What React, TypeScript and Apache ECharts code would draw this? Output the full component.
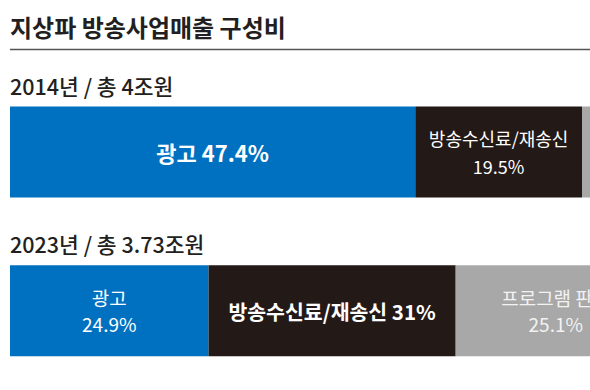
import React, { useEffect, useRef } from "react";
import * as echarts from "echarts";

const title = "지상파 방송사업매출 구성비";
const years = ["2014년", "2023년"];
const totals = [4, 3.73]; // 조원
const totalTexts = ["총 4조원", "총 3.73조원"];
const segments = ["광고", "방송수신료/재송신", "프로그램 판매", "기타"];
const share2014 = [47.4, 19.5, 16.4, 16.7];
const share2023 = [24.9, 31, 25.1, 19.0];

const shares = [share2014, share2023];
const colors = ["#0071c1", "#231916", "#a8a8a8", "#d0d0d0"];
const FONT = "'Noto Sans CJK KR', 'Noto Sans', sans-serif";

// label style per [yearIndex][segmentIndex]: "bold" = single bold line, "two" = two lines, "none" = not visible in frame
const labelModes = [
  ["bold", "two", "none", "none"],
  ["two", "bold", "two", "none"],
];

export default function App() {
  const ref = useRef<HTMLDivElement>(null);
  useEffect(() => {
    if (!ref.current) return;
    const chart = echarts.init(ref.current, undefined, { renderer: "svg" });
    const series = segments.map((seg, si) => ({
      type: "bar",
      name: seg,
      stack: "total",
      barWidth: 91,
      itemStyle: { color: colors[si] },
      data: years.map((_, yi) => {
        const pct = shares[yi][si];
        const mode = labelModes[yi][si];
        const txtColor = si >= 2 ? "#f2f2f2" : "#ffffff";
        let label: any;
        if (mode === "none") label = { show: false };
        else if (mode === "bold")
          label = {
            show: true,
            position: "inside",
            formatter: `${seg} ${pct}%`,
            color: txtColor,
            fontFamily: FONT,
            fontWeight: "bold",
            fontSize: si === 0 ? 22 : 20.5,
          };
        else
          label = {
            show: true,
            position: "inside",
            formatter: `${seg}\n${pct}%`,
            color: txtColor,
            fontFamily: FONT,
            fontWeight: "normal",
            fontSize: yi === 0 ? 18 : 19,
            lineHeight: yi === 0 ? 28 : 26,
            align: "center",
          };
        return { value: (totals[yi] * pct) / 100, label };
      }),
    }));
    chart.setOption({
      animation: false,
      grid: { left: 10, top: 72.5, width: 855, height: 320 },
      xAxis: { type: "value", min: 0, max: 4, show: false },
      yAxis: {
        type: "category",
        data: years,
        inverse: true,
        show: false,
      },
      graphic: [
        {
          type: "text",
          x: 10,
          y: 26,
          style: {
            text: title,
            fill: "#231f20",
            font: `bold 24px ${FONT}`,
            textVerticalAlign: "middle",
          },
        },
        {
          type: "line",
          shape: { x1: 10, y1: 49.5, x2: 900, y2: 49.5 },
          style: { stroke: "#555555", lineWidth: 1.5 },
        },
        ...years.map((y, i) => ({
          type: "text",
          x: 10,
          y: i === 0 ? 85 : 243,
          style: {
            text: `${y} / ${totalTexts[i]}`,
            fill: "#231f20",
            font: `500 21.5px ${FONT}`,
            textVerticalAlign: "middle",
          },
        })),
      ],
      series,
    });
    return () => chart.dispose();
  }, []);
  return (
    <div
      style={{
        position: "fixed",
        left: 0,
        top: 0,
        width: 590,
        height: 390,
        overflow: "hidden",
        background: "#ffffff",
      }}
    >
      <div ref={ref} style={{ width: 900, height: 390 }} />
    </div>
  );
}
